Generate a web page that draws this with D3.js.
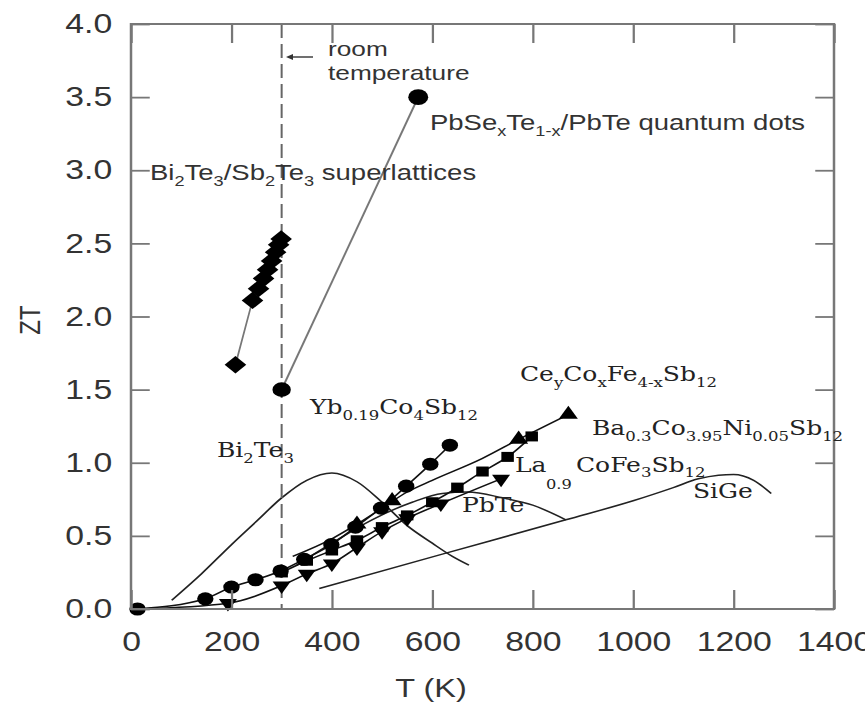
<!DOCTYPE html>
<html><head><meta charset="utf-8">
<script src="https://cdn.jsdelivr.net/npm/d3@7"></script>
<style>body{margin:0;background:#fff;overflow:hidden} text{white-space:pre}</style>
</head><body>
<svg id="c" width="865" height="703" viewBox="0 0 692 703" preserveAspectRatio="none"></svg>
<script>
// ---------- data (T in K, ZT) ----------
const xTicks = [0, 200, 400, 600, 800, 1000, 1200, 1400];
const yTicks = [0, 0.5, 1.0, 1.5, 2.0, 2.5, 3.0, 3.5, 4.0];
const roomT = 300;

const superlattice = [[208,1.67],[242,2.11],[254,2.19],[264,2.26],[272,2.32],[280,2.38],[288,2.44],[294,2.49],[299,2.53]];
const quantumDots  = [[300,1.50],[572,3.50]];
const ybCoSb       = [[13,0.00],[148,0.07],[200,0.15],[248,0.20],[298,0.26],[345,0.34],[399,0.44],[447,0.56],[498,0.69],[548,0.84],[596,0.99],[635,1.12]];
const ceLine       = [[322,0.36],[400,0.48],[450,0.58],[500,0.69],[550,0.80],[600,0.88],[700,1.03],[772,1.16],[871,1.33]];
const ceMarkers    = [[450,0.58],[520,0.74],[772,1.16],[871,1.33]];
const baCoNiSb     = [[300,0.25],[350,0.33],[400,0.40],[450,0.47],[500,0.56],[550,0.64],[600,0.73],[650,0.83],[700,0.94],[750,1.04],[798,1.18]];
const laCoFeSb     = [[15,0.00],[193,0.04],[300,0.16],[350,0.24],[400,0.31],[450,0.42],[500,0.53],[550,0.62],[617,0.72],[737,0.89]];
const bi2te3Curve  = [[81,0.06],[140,0.24],[200,0.44],[250,0.60],[300,0.76],[350,0.88],[400,0.93],[450,0.87],[500,0.73],[550,0.57],[600,0.45],[640,0.36],[673,0.30]];
const pbteCurve    = [[330,0.30],[400,0.45],[480,0.61],[560,0.73],[620,0.79],[670,0.80],[740,0.76],[800,0.71],[866,0.61]];
const sigeCurve    = [[375,0.14],[620,0.375],[866,0.61],[1000,0.74],[1080,0.83],[1130,0.89],[1170,0.915],[1200,0.92],[1240,0.88],[1275,0.79]];

// ---------- layout ----------
const SX = 1.25;               // horizontal stretch of the picture
const padL = 131, padR = 834, padT = 24, padB = 609;
const svg = d3.select("#c");
const x = d3.scaleLinear().domain([0,1400]).range([padL/SX, padR/SX]);
const y = d3.scaleLinear().domain([0,4]).range([padB, padT]);
const px = d => x(d[0]), py = d => y(d[1]);
const AX = "#777", TXT = "#333";

// ---------- curves ----------
const smooth = d3.line().x(px).y(py).curve(d3.curveMonotoneX);
const straight = d3.line().x(px).y(py);
[bi2te3Curve, pbteCurve, sigeCurve].forEach(c =>
  svg.append("path").attr("d", smooth(c)).attr("fill","none").attr("stroke","#222").attr("stroke-width",1.5));

// room temperature dashed line
svg.append("line").attr("x1", x(roomT)).attr("x2", x(roomT)).attr("y1", padT).attr("y2", padB)
  .attr("stroke","#666").attr("stroke-width",1.6).attr("stroke-dasharray","14,6");

// series lines
svg.append("path").attr("d", straight(superlattice)).attr("fill","none").attr("stroke","#777").attr("stroke-width",1.4);
svg.append("path").attr("d", straight(quantumDots)).attr("fill","none").attr("stroke","#777").attr("stroke-width",1.6);
[laCoFeSb, baCoNiSb, ceLine, ybCoSb].forEach(c =>
  svg.append("path").attr("d", smooth(c)).attr("fill","none").attr("stroke","#111").attr("stroke-width",1.5));

// markers
function markers(data, type, size, rot) {
  svg.append("g").selectAll("path").data(data).join("path")
    .attr("d", d3.symbol().type(type).size(size))
    .attr("transform", d => `translate(${px(d)},${py(d)}) rotate(${rot||0})`)
    .attr("fill","#000");
}
markers(laCoFeSb.slice(1), d3.symbolTriangle, 90, 180);
markers(baCoNiSb, d3.symbolSquare, 100);
markers(ceMarkers, d3.symbolTriangle, 100);
markers(ybCoSb, d3.symbolCircle, 135);
markers(superlattice, d3.symbolSquare, 150, 45);
markers(quantumDots.slice(0,1), d3.symbolCircle, 170);
markers(quantumDots.slice(1), d3.symbolCircle, 200);

// ---------- frame & axes ----------
svg.append("rect").attr("x", padL/SX).attr("y", padT).attr("width", (padR-padL)/SX).attr("height", padB-padT)
  .attr("fill","none").attr("stroke",AX).attr("stroke-width",2);

function styleAxis(g) {
  g.select(".domain").remove();
  g.selectAll(".tick line").attr("stroke",AX).attr("stroke-width",1.8);
  g.selectAll(".tick text").attr("fill",TXT).attr("font-family","Liberation Sans, Arial, sans-serif").attr("font-size",27);
}
svg.append("g").attr("transform",`translate(0,${padB})`)
  .call(d3.axisBottom(x).tickValues(xTicks).tickFormat(d3.format("d")).tickSize(-19).tickPadding(23))
  .call(styleAxis);
svg.append("g").attr("transform",`translate(0,${padT})`)
  .call(d3.axisTop(x).tickValues(xTicks).tickFormat("").tickSize(-19))
  .call(styleAxis);
svg.append("g").attr("transform",`translate(${padL/SX},0)`)
  .call(d3.axisLeft(y).tickValues(yTicks).tickFormat(d3.format(".1f")).tickSize(-15).tickPadding(15))
  .call(styleAxis);
svg.append("g").attr("transform",`translate(${padR/SX},0)`)
  .call(d3.axisRight(y).tickValues(yTicks).tickFormat("").tickSize(-15))
  .call(styleAxis);

// axis titles
svg.append("text").attr("transform",`translate(${40/SX},320) rotate(-90)`).attr("text-anchor","middle")
  .attr("font-family","Liberation Sans, Arial, sans-serif").attr("font-size",24).attr("fill",TXT).text("ZT");
svg.append("text").attr("x",431/SX).attr("y",697).attr("text-anchor","middle")
  .attr("font-family","Liberation Sans, Arial, sans-serif").attr("font-size",26).attr("fill",TXT).text("T (K)");

// ---------- labels ----------
const SANS = "Liberation Sans, Arial, sans-serif", SERIF = "DejaVu Serif, serif";
function rich(xr, yb, segs, family, size, shift, color) {
  const t = svg.append("text").attr("x", xr/SX).attr("y", yb).attr("font-family", family)
    .attr("font-size", size).attr("fill", color || "#222");
  let down = false;
  segs.forEach(([s, sub]) => {
    const ts = t.append("tspan").text(s);
    if (sub) { ts.attr("font-size", size*0.66); if (!down) { ts.attr("dy", shift); down = true; } }
    else if (down) { ts.attr("dy", -shift); down = false; }
  });
}
rich(150, 180, [["Bi",0],["2",1],["Te",0],["3",1],["/Sb",0],["2",1],["Te",0],["3",1],[" superlattices",0]], SANS, 22, 6, TXT);
rich(430, 130, [["PbSe",0],["x",1],["Te",0],["1-x",1],["/PbTe quantum dots",0]], SANS, 22, 6, TXT);
rich(328, 56, [["room",0]], SANS, 21, 0, TXT);
rich(328, 80, [["temperature",0]], SANS, 21, 0, TXT);
// arrow pointing to room temperature line
svg.append("line").attr("x1",313/SX).attr("x2",289/SX).attr("y1",57).attr("y2",57).attr("stroke","#333").attr("stroke-width",1.4);
svg.append("path").attr("d",`M${286/SX},57 L${293/SX},54 L${293/SX},60 Z`).attr("fill","#333");

rich(310, 414, [["Yb",0],["0.19",1],["Co",0],["4",1],["Sb",0],["12",1]], SERIF, 20, 6);
rich(217, 457, [["Bi",0],["2",1],["Te",0],["3",1]], SERIF, 20, 6);
rich(520, 381, [["Ce",0],["y",1],["Co",0],["x",1],["Fe",0],["4-x",1],["Sb",0],["12",1]], SERIF, 20, 6);
rich(592, 435, [["Ba",0],["0.3",1],["Co",0],["3.95",1],["Ni",0],["0.05",1],["Sb",0],["12",1]], SERIF, 20, 6);
rich(515, 472, [["La",0]], SERIF, 20, 0);
rich(546, 489, [["0.9",0]], SERIF, 13, 0);
rich(576, 472, [["CoFe",0],["3",1],["Sb",0],["12",1]], SERIF, 20, 5);
rich(462, 512, [["PbTe",0]], SERIF, 20, 0);
rich(693, 498, [["SiGe",0]], SERIF, 20, 0);
</script>
</body></html>
